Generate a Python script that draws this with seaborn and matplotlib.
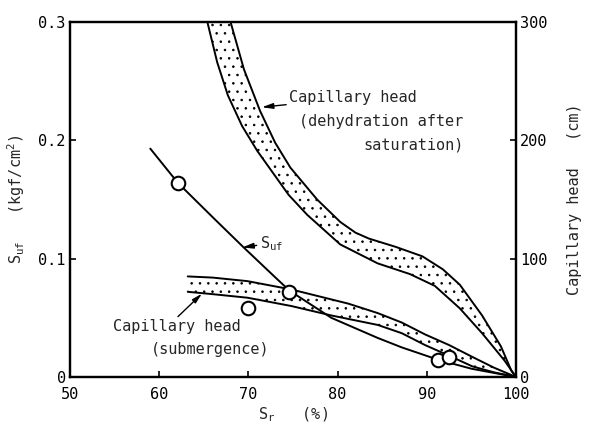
import numpy as np
import matplotlib
matplotlib.use("Agg")
import matplotlib.pyplot as plt
import seaborn as sns

# Degree of saturation Sr (%) vs. suction Suf (kgf/cm2)
suf_x = [59.0, 62.1, 66.0, 69.4, 72.9, 74.6, 79.3, 84.5, 87.2, 91.3, 95.0, 100.0]
suf_y = [0.193, 0.164, 0.135, 0.110, 0.085, 0.073, 0.050, 0.033, 0.025, 0.0145, 0.007, 0.0]

# Measured points
pt_x = [62.1, 74.6, 69.9, 91.3, 92.5]
pt_y = [0.164, 0.0715, 0.058, 0.0145, 0.0173]

# Capillary head band, dehydration after saturation (cm)
dry_hi_x = [68.0, 69.5, 71.3, 73.0, 74.7, 77.7, 80.3, 82.0, 83.5, 86.5, 89.5, 91.8, 93.7, 96.2, 98.3, 99.5, 100.0]
dry_hi_y = [300, 260, 225, 198, 177, 150, 131, 122, 117, 110, 102, 91, 78, 52, 26, 5, 0]
dry_lo_x = [65.4, 66.5, 67.7, 69.3, 71.0, 72.8, 74.5, 76.6, 80.3, 84.5, 88.1, 90.9, 93.7, 96.2, 98.7, 100.0]
dry_lo_y = [300, 266, 238, 212, 191, 172, 154, 137, 112, 96, 87, 77, 58, 37, 14, 0]

# Capillary head band, submergence (cm)
sub_hi_x = [63.2, 66.0, 69.9, 74.8, 81.2, 84.5, 87.2, 89.8, 92.5, 95.1, 97.5, 100.0]
sub_hi_y = [85, 84, 81, 74, 62, 54, 46, 36, 27, 17, 8, 0]
sub_lo_x = [63.2, 66.0, 69.9, 74.8, 79.3, 84.5, 87.2, 89.8, 92.5, 95.1, 97.5, 100.0]
sub_lo_y = [72, 70, 67, 60, 52, 44, 37, 27, 18, 9, 4, 0]

x_ticks = [50, 60, 70, 80, 90, 100]
left_ticks = [0, 0.1, 0.2, 0.3]
left_labels = ["0", "0.1", "0.2", "0.3"]
right_ticks = [0, 100, 200, 300]

sns.set_style("ticks")
plt.rcParams["font.family"] = ["DejaVu Sans Mono", "DejaVu Sans"]
plt.rcParams["hatch.color"] = "black"
plt.rcParams["hatch.linewidth"] = 0.6
plt.rcParams["xtick.direction"] = "in"
plt.rcParams["ytick.direction"] = "in"

FS = 11

fig = plt.figure(figsize=(5.9, 4.28), dpi=100)
ax = fig.add_axes([70 / 590, 51 / 428, 446 / 590, 355 / 428])
ax2 = ax.twinx()

lw = 1.4

# stippled bands on the capillary-head axis
for hx, hy, lx, ly in [(dry_hi_x, dry_hi_y, dry_lo_x, dry_lo_y),
                       (sub_hi_x, sub_hi_y, sub_lo_x, sub_lo_y)]:
    ax2.fill(np.concatenate([hx, lx[::-1]]), np.concatenate([hy, ly[::-1]]),
             facecolor="none", edgecolor="black", hatch="..", linewidth=0)
    sns.lineplot(x=hx, y=hy, ax=ax2, color="black", lw=lw, sort=False)
    sns.lineplot(x=lx, y=ly, ax=ax2, color="black", lw=lw, sort=False)

# suction curve and measured points
sns.lineplot(x=suf_x, y=suf_y, ax=ax, color="black", lw=lw, sort=False)
sns.scatterplot(x=pt_x, y=pt_y, ax=ax, s=95, facecolor="white",
                edgecolor="black", linewidth=1.5, zorder=5)

ax.set_zorder(ax2.get_zorder() + 1)
ax.patch.set_visible(False)

ax.set_xlim(50, 100)
ax.set_ylim(0, 0.3)
ax2.set_ylim(0, 300)
ax.set_xticks(x_ticks)
ax.set_xticklabels([str(v) for v in x_ticks], fontsize=FS)
ax.set_yticks(left_ticks)
ax.set_yticklabels(left_labels, fontsize=FS)
ax2.set_yticks(right_ticks)
ax2.set_yticklabels([str(v) for v in right_ticks], fontsize=FS)
for a in (ax, ax2):
    a.tick_params(length=4, width=1.2, pad=3, colors="black")
    for s in a.spines.values():
        s.set_linewidth(1.6)
        s.set_color("black")
ax.tick_params(axis="x", pad=7)

ax.set_xlabel(r"S$_\mathregular{r}$   (%)", fontsize=FS, labelpad=3)
ax.set_ylabel(r"S$_\mathregular{uf}$   (kgf/cm$^\mathregular{2}$)", fontsize=FS, labelpad=8)
ax2.set_ylabel("Capillary head   (cm)", fontsize=FS, labelpad=14)

arrow = dict(arrowstyle="-|>,head_length=0.6,head_width=0.15", color="black", lw=1.0,
             shrinkA=0, shrinkB=0)

# dehydration label
ax2.annotate("Capillary head", xy=(71.5, 228), xytext=(74.6, 236),
             fontsize=FS, ha="left", va="center", arrowprops=arrow)
ax2.text(75.7, 216, "(dehydration after", fontsize=FS, ha="left", va="center")
ax2.text(94.1, 196, "saturation)", fontsize=FS, ha="right", va="center")

# suction curve label
ax.annotate(r"S$_\mathregular{uf}$", xy=(69.3, 0.1095), xytext=(71.3, 0.113),
            fontsize=FS, ha="left", va="center", arrowprops=arrow)

# submergence label
ax2.annotate("", xy=(64.8, 70.5), xytext=(62.1, 51), arrowprops=arrow)
ax2.text(54.8, 43, "Capillary head", fontsize=FS, ha="left", va="center")
ax2.text(59.1, 23.5, "(submergence)", fontsize=FS, ha="left", va="center")

fig.savefig("out.png", dpi=100)
